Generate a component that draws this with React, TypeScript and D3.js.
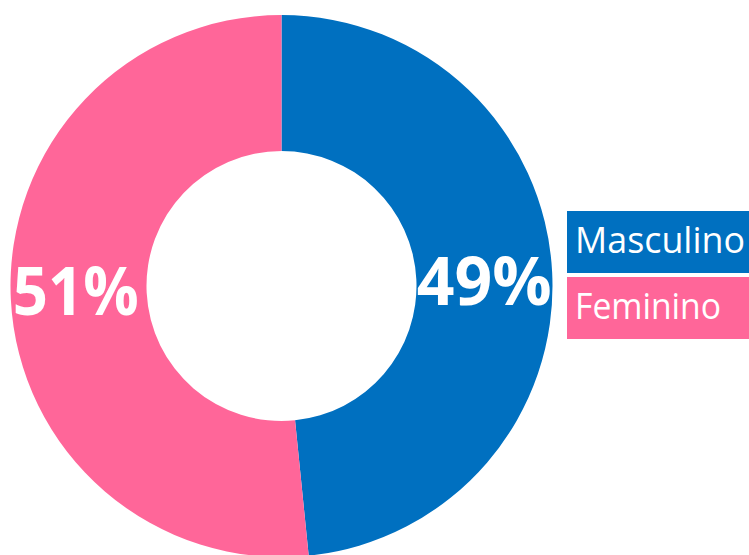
import React from "react";
import * as d3 from "d3";

const categories = ["Masculino", "Feminino"];
const values = [48.4, 51.6];
const labels = ["49%", "51%"];
const colors = ["#0070C0", "#FF6699"];

const W = 749;
const H = 555;

export default function App() {
  const cx = 281.5;
  const cy = 286;
  const outerR = 271;
  const innerR = 135;
  const pie = d3.pie<number>().sort(null).value((d) => d);
  const arcs = pie(values);
  const arcGen = d3.arc<d3.PieArcDatum<number>>().innerRadius(innerR).outerRadius(outerR);

  const legendX = 567;
  const legendY = [211, 277];
  const legendH = 62;

  return (
    <svg
      width={W}
      height={H}
      style={{ position: "absolute", left: 0, top: 0, background: "#fff" }}
    >
      <g transform={`translate(${cx},${cy})`}>
        {arcs.map((a, i) => (
          <path key={i} d={arcGen(a) || ""} fill={colors[i]} />
        ))}
        {arcs.map((a, i) => {
          const [x, y] = arcGen.centroid(a);
          return (
            <text
              key={"l" + i}
              x={i === 0 ? x : x - 3}
              y={i === 0 ? y + 3 : y - 7}
              textAnchor="middle"
              dominantBaseline="central"
              fill="#fff"
              fontFamily="'Open Sans', 'Noto Sans', sans-serif"
              fontWeight="bold"
              fontSize={66}
              textLength={i === 0 ? 135 : 126}
              lengthAdjust="spacingAndGlyphs"
            >
              {labels[i]}
            </text>
          );
        })}
      </g>
      {categories.map((c, i) => (
        <g key={c}>
          <rect x={legendX} y={legendY[i]} width={W - legendX} height={legendH} fill={colors[i]} />
          <text
            x={575}
            y={legendY[i] + 42}
            fill="#fff"
            fontFamily="'Open Sans', 'Noto Sans', sans-serif"
            fontSize={36}
            textLength={i === 0 ? 170 : 146}
            lengthAdjust="spacingAndGlyphs"
          >
            {c}
          </text>
        </g>
      ))}
    </svg>
  );
}
